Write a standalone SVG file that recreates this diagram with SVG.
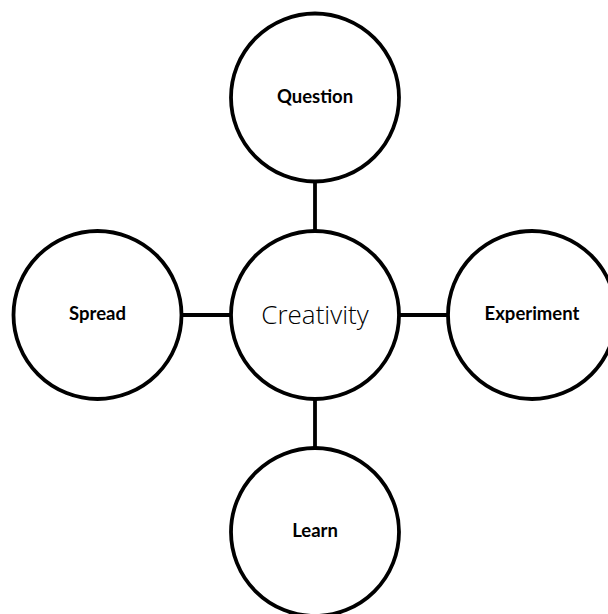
<svg xmlns="http://www.w3.org/2000/svg" width="608" height="614" viewBox="0 0 608 614">
<style>
.n{fill:#fff;stroke:#000;stroke-width:3.8}
.c{stroke:#000;stroke-width:3.8}
.l{font-family:Lato,"Open Sans","Liberation Sans",sans-serif;font-weight:700;font-size:18.5px;text-anchor:middle;fill:#000}
.m{font-family:"Open Sans","Liberation Sans",sans-serif;font-weight:300;font-size:26px;text-anchor:middle;fill:#000}
</style>
<rect width="608" height="614" fill="#fff"/>
<g id="connectors">
<line class="c" x1="315" y1="182" x2="315" y2="230"/>
<line class="c" x1="183" y1="315" x2="231" y2="315"/>
<line class="c" x1="399" y1="315" x2="448" y2="315"/>
<line class="c" x1="315" y1="400" x2="315" y2="448"/>
</g>
<g id="question"><circle class="n" cx="315" cy="97.5" r="84"/><text class="l" x="315" y="103">Question</text></g>
<g id="spread"><circle class="n" cx="97.5" cy="315" r="84"/><text class="l" x="97.5" y="320">Spread</text></g>
<g id="creativity"><circle class="n" cx="315" cy="315" r="84"/><text class="m" x="315" y="324">Creativity</text></g>
<g id="experiment"><circle class="n" cx="532" cy="315" r="84"/><text class="l" x="532" y="320">Experiment</text></g>
<g id="learn"><circle class="n" cx="315" cy="532" r="84"/><text class="l" x="315" y="537">Learn</text></g>
</svg>
